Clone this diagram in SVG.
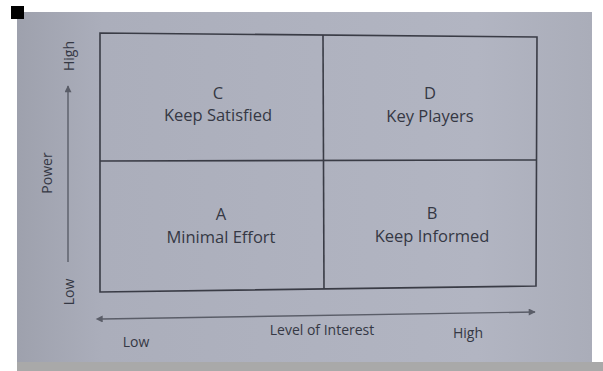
<svg xmlns="http://www.w3.org/2000/svg" width="603" height="371" viewBox="0 0 603 371">
<style>
.q{font-family:"Open Sans","Liberation Sans",sans-serif;font-size:16.5px;fill:#353844;text-anchor:middle}
.a{font-family:"Open Sans","Liberation Sans",sans-serif;font-size:14px;fill:#353844;text-anchor:middle}
.ln{stroke:#3a3c46;stroke-width:1.6;fill:none}
.ax{stroke:#5a5d68;stroke-width:1.4;fill:none}
</style>
<defs>
<marker id="ah" viewBox="0 0 10 10" refX="9" refY="5" markerWidth="9" markerHeight="7" orient="auto" markerUnits="userSpaceOnUse">
<path d="M0,0 L10,5 L0,10 Z" fill="#5a5d68"/>
</marker>
<marker id="ahs" viewBox="0 0 10 10" refX="1" refY="5" markerWidth="9" markerHeight="7" orient="auto-start-reverse" markerUnits="userSpaceOnUse">
<path d="M0,0 L10,5 L0,10 Z" fill="#5a5d68"/>
</marker>
<linearGradient id="pg" x1="0" y1="0" x2="1" y2="0">
<stop offset="0" stop-color="#9ea1ad"/>
<stop offset="0.15" stop-color="#abaebb"/>
<stop offset="0.8" stop-color="#b2b5c2"/>
<stop offset="1" stop-color="#aaadb9"/>
</linearGradient>
</defs>
<rect width="603" height="371" fill="#ffffff"/>
<rect x="17" y="12" width="575" height="350" fill="url(#pg)"/>
<rect x="17" y="362" width="586" height="9" fill="#a9a9a9"/>
<rect x="11" y="6" width="13" height="13" fill="#000"/>
<g id="grid">
<polygon points="100,33 537,37 536,286 100,292" fill="#bec1ce" class="ln"/>
<line x1="323" y1="35" x2="324" y2="289" class="ln"/>
<line x1="100" y1="161" x2="537" y2="160" class="ln"/>
</g>
<g id="C"><text class="q" x="218" y="98.5">C</text><text class="q" x="218" y="121">Keep Satisfied</text></g>
<g id="D"><text class="q" x="430" y="99">D</text><text class="q" x="430" y="121.5">Key Players</text></g>
<g id="A"><text class="q" x="221" y="220">A</text><text class="q" x="221" y="242.5">Minimal Effort</text></g>
<g id="B"><text class="q" x="432" y="219">B</text><text class="q" x="432" y="241.5">Keep Informed</text></g>
<g id="connectors">
<line x1="68" y1="262" x2="68" y2="86" class="ax" marker-end="url(#ah)"/>
<line x1="102" y1="319" x2="535" y2="312" class="ax" marker-start="url(#ahs)" marker-end="url(#ah)"/>
</g>
<g id="axis-labels">
<text class="a" transform="translate(74,56) rotate(-90)">High</text>
<text class="a" transform="translate(52,173) rotate(-90)">Power</text>
<text class="a" transform="translate(74,292) rotate(-90)">Low</text>
<text class="a" x="322" y="335">Level of Interest</text>
<text class="a" x="136" y="347">Low</text>
<text class="a" x="468" y="338">High</text>
</g>
</svg>
